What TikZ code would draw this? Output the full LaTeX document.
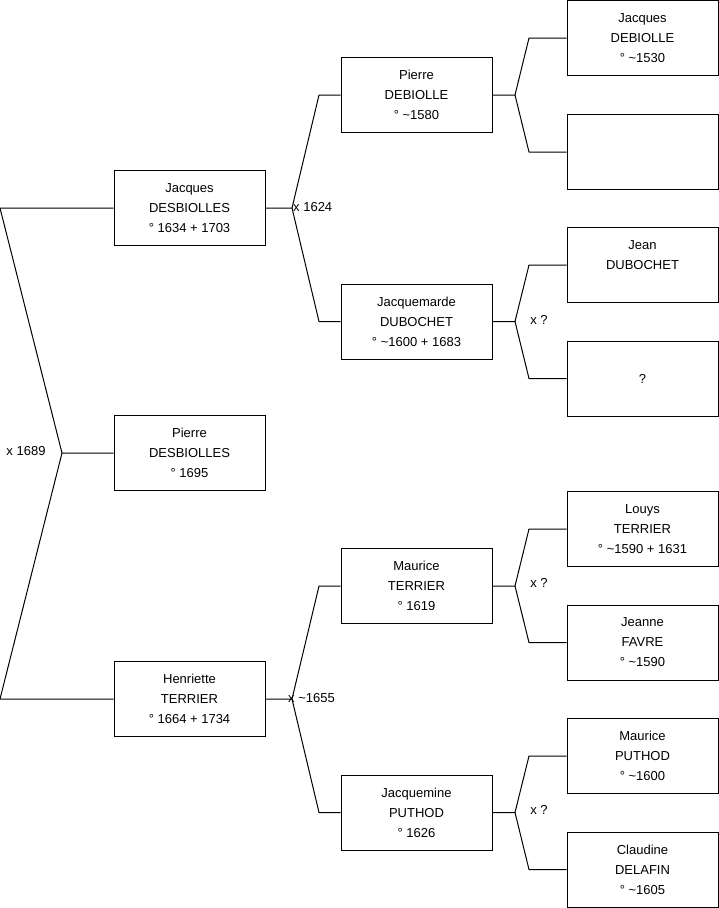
\documentclass[tikz,border=0pt]{standalone}
\usepackage{fontspec}
\setmainfont{Liberation Sans}
\begin{document}
\begin{tikzpicture}[x=1pt,y=-1pt,
  person/.style={draw=black,line width=1pt,fill=white,minimum width=151pt,minimum height=75pt,
    inner sep=0pt,align=center,font=\fontsize{13}{20}\selectfont},
  link/.style={draw=black,line width=1pt,line join=round},
  lbl/.style={inner sep=0pt,font=\fontsize{13}{15}\selectfont}]
\useasboundingbox (0,0) rectangle (719,908);
% column 1
\node[person] (jd) at (189.5,208) {Jacques\\DESBIOLLES\\° 1634 + 1703};
\node[person] (pd) at (189.5,453) {Pierre\\DESBIOLLES\\° 1695};
\node[person] (ht) at (189.5,699) {Henriette\\TERRIER\\° 1664 + 1734};
% column 2
\node[person] (pdb) at (416.5,95) {Pierre\\DEBIOLLE\\° \textasciitilde1580};
\node[person] (jmd) at (416.5,321.5) {Jacquemarde\\DUBOCHET\\° \textasciitilde1600 + 1683};
\node[person] (mt) at (416.5,586) {Maurice\\TERRIER\\° 1619};
\node[person] (jmp) at (416.5,812.5) {Jacquemine\\PUTHOD\\° 1626};
% column 3
\node[person] (jdb) at (642.5,38) {Jacques\\DEBIOLLE\\° \textasciitilde1530};
\node[person] (emp) at (642.5,152) {};
\node[person] (jdu) at (642.5,265) {Jean\\DUBOCHET\\\phantom{° 1}};
\node[person] (unk) at (642.5,378.5) {?};
\node[person] (lt) at (642.5,529) {Louys\\TERRIER\\° \textasciitilde1590 + 1631};
\node[person] (jf) at (642.5,642.5) {Jeanne\\FAVRE\\° \textasciitilde1590};
\node[person] (mp) at (642.5,756) {Maurice\\PUTHOD\\° \textasciitilde1600};
\node[person] (cd) at (642.5,869.5) {Claudine\\DELAFIN\\° \textasciitilde1605};
% joints
\coordinate (a0) at (0,208);
\coordinate (b0) at (0,699);
\coordinate (j0) at (62,453);
\coordinate (j1) at (292,208);
\coordinate (j1u) at (319,95);
\coordinate (j1d) at (319,321.5);
\coordinate (j2) at (292,699);
\coordinate (j2u) at (319,586);
\coordinate (j2d) at (319,812.5);
\coordinate (k1) at (515,95);
\coordinate (k1u) at (529,38);
\coordinate (k1d) at (529,152);
\coordinate (k2) at (515,321.5);
\coordinate (k2u) at (529,265);
\coordinate (k2d) at (529,378.5);
\coordinate (k3) at (515,586);
\coordinate (k3u) at (529,529);
\coordinate (k3d) at (529,642.5);
\coordinate (k4) at (515,812.5);
\coordinate (k4u) at (529,756);
\coordinate (k4d) at (529,869.5);
% connectors
\draw[link] (jd.west) -- (a0) -- (j0) -- (pd.west);
\draw[link] (ht.west) -- (b0) -- (j0);
\draw[link] (jd.east) -- (j1) -- (j1u) -- (pdb.west);
\draw[link] (j1) -- (j1d) -- (jmd.west);
\draw[link] (ht.east) -- (j2) -- (j2u) -- (mt.west);
\draw[link] (j2) -- (j2d) -- (jmp.west);
\draw[link] (pdb.east) -- (k1) -- (k1u) -- (jdb.west);
\draw[link] (k1) -- (k1d) -- (emp.west);
\draw[link] (jmd.east) -- (k2) -- (k2u) -- (jdu.west);
\draw[link] (k2) -- (k2d) -- (unk.west);
\draw[link] (mt.east) -- (k3) -- (k3u) -- (lt.west);
\draw[link] (k3) -- (k3d) -- (jf.west);
\draw[link] (jmp.east) -- (k4) -- (k4u) -- (mp.west);
\draw[link] (k4) -- (k4d) -- (cd.west);
% labels
\node[lbl] (l0) at (26,451) {x 1689};
\node[lbl,anchor=west] (l1) at (293,207) {x 1624};
\node[lbl,anchor=west] (l2) at (288,698) {x \textasciitilde1655};
\node[lbl] (l3) at (539,320) {x ?};
\node[lbl] (l4) at (539,583) {x ?};
\node[lbl] (l5) at (539,810) {x ?};
\end{tikzpicture}
\end{document}
